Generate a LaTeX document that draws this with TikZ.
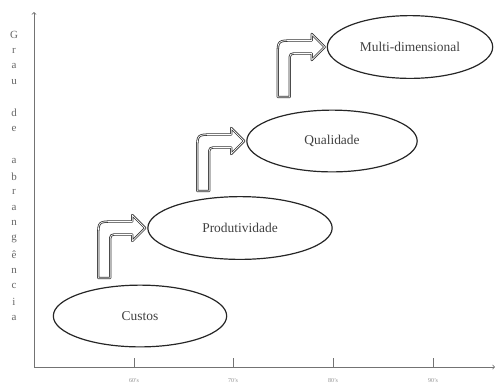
\documentclass[tikz,border=0pt]{standalone}
\usepackage{fontspec}
\setmainfont{Liberation Serif}
\usetikzlibrary{shapes.geometric}

\tikzset{
  stage/.style={ellipse, draw=black!85, line width=1.2bp, inner sep=0pt,
    text=black!75, font=\fontsize{13.5}{16}\selectfont},
  blockarrow/.style={draw=black!80, line width=0.8bp, double=white,
    double distance=0.7bp, line join=round},
  axis/.style={draw=black!55, line width=0.8bp},
  axislabel/.style={text=black!60, font=\fontsize{11}{12}\selectfont, inner sep=0pt},
  ticklabel/.style={text=black!45, font=\fontsize{6}{7}\selectfont, inner sep=0pt}
}

\begin{document}
\begin{tikzpicture}[x=1bp, y=-1bp]
    \useasboundingbox (0,0) rectangle (495,383);

    % Axes
    \coordinate (O) at (34,367);
    \coordinate (Ytop) at (34,12);
    \coordinate (Xend) at (495,367);
    \draw[axis, ->] (O) -- (Ytop);
    \draw[axis, ->] (O) -- (Xend);
    \foreach \x/\lbl [count=\i] in {134/60's, 233/70's, 333/80's, 433/90's} {
        \coordinate (T\i) at (\x,367);
        \draw[axis, line width=0.5bp] (T\i) -- ++(0,-9);
        \node[ticklabel] at (\x,381) (L\i) {\lbl};
    }

    % Vertical label
    \foreach \ch [count=\i from 0] in {G,r,a,u}
        \node[axislabel] at (14,35+15.7*\i) (grau\i) {\ch};
    \foreach \ch [count=\i from 0] in {d,e}
        \node[axislabel] at (14,113+15.7*\i) (de\i) {\ch};
    \foreach \ch [count=\i from 0] in {a,b,r,a,n,g,ê,n,c,i,a}
        \node[axislabel] at (14,160.6+15.7*\i) (abr\i) {\ch};

    % Nodes
    \node[stage, minimum width=174, minimum height=62] at (140,316) (Custos) {Custos};
    \node[stage, minimum width=185, minimum height=63] at (240,228) (Prod) {Produtividade};
    \node[stage, minimum width=171, minimum height=62] at (332,141) (Qual) {Qualidade};
    \node[stage, minimum width=166, minimum height=63] at (410,47) (Multi) {Multi-dimensional};

    % Arrows
    \foreach \t in {Prod, Qual, Multi}
        \draw[blockarrow, shift={(\t.west)}]
            (-49,50) -- (-49,9) .. controls (-49,-6.5) .. (-33,-6.5)
            -- (-15,-6.5) -- (-15,-13) -- (-2,0) -- (-15,13) -- (-15,6.5)
            -- (-29,6.5) .. controls (-37,6.5) .. (-37,14) -- (-37,50) -- cycle;
\end{tikzpicture}
\end{document}
